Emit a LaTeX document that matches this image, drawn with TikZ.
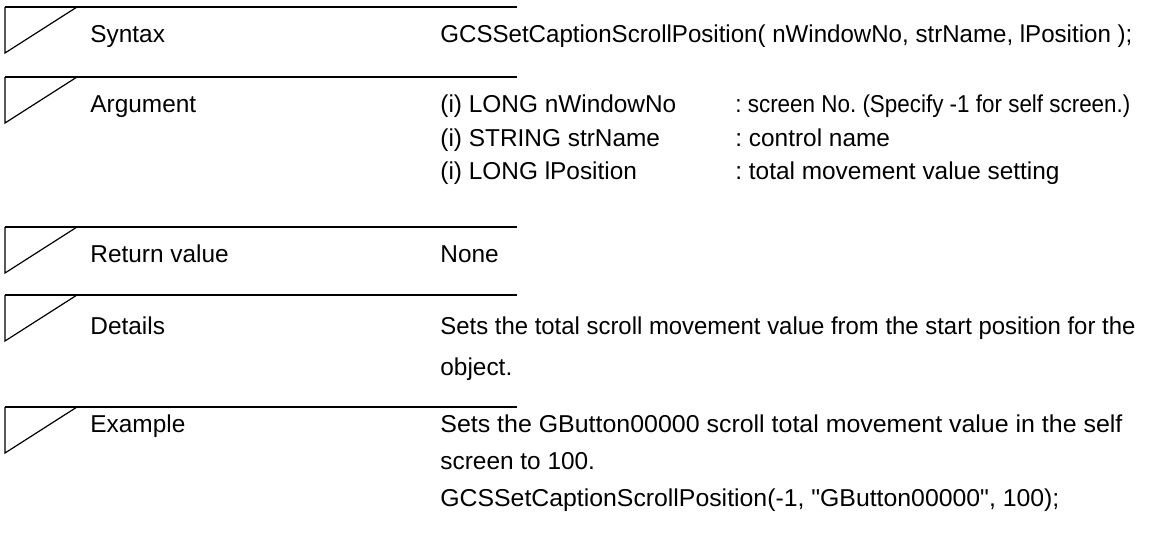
\documentclass[tikz,border=0pt]{standalone}
\usepackage{fontspec}
\setmainfont{Liberation Sans}[Ligatures=TeXOff]
\newcommand{\fitline}[2]{\resizebox{#1}{\height}{#2}}

\begin{document}
\frenchspacing
\begin{tikzpicture}[
    x=0.5pt, y=-0.5pt,
    etikett/.style = {anchor=base west, inner sep=0pt},
    linje/.style = {black, line width=1pt},
    strek/.style = {black, line width=0.6pt},
    font=\fontsize{12.2}{18}\selectfont
    ]
  \useasboundingbox (0,0) rectangle (1154,532);

  % header marks
  \foreach \y/\n in {7/syn, 77/arg, 227/ret, 295/det, 407/ex} {
    \coordinate (\n-a) at (5,\y);
    \coordinate (\n-b) at (517,\y);
    \coordinate (\n-c) at (5,\y+46);
    \coordinate (\n-d) at (77,\y);
    \draw[linje] (\n-a) -- (\n-b);
    \draw[strek] (\n-a) -- (\n-c) -- (\n-d);
  }

  \node[etikett] (syntax) at (90,42) {Syntax};
  \node[etikett] (syntaxval) at (440,42) {\fitline{346pt}{GCSSetCaptionScrollPosition( nWindowNo, strName, lPosition );}};

  \node[etikett] (argument) at (90,112) {Argument};
  \node[etikett] (arg1) at (440,112) {(i) LONG nWindowNo};
  \node[etikett] (arg2) at (440,146) {(i) STRING strName};
  \node[etikett] (arg3) at (440,179) {(i) LONG lPosition};
  \node[etikett] (arg1txt) at (735,112) {\fitline{197.5pt}{: screen No. (Specify -1 for self screen.)}};
  \node[etikett] (arg2txt) at (735,146) {: control name};
  \node[etikett] (arg3txt) at (735,179) {: total movement value setting};

  \node[etikett] (return) at (90,262) {Return value};
  \node[etikett] (returnval) at (440,262) {None};

  \node[etikett] (details) at (90,334) {Details};
  \node[etikett] (details1) at (440,334) {\fitline{347.5pt}{Sets the total scroll movement value from the start position for the}};
  \node[etikett] (details2) at (440,375) {object.};

  \node[etikett] (example) at (90,432) {Example};
  \node[etikett] (example1) at (440,432) {\fitline{341pt}{Sets the GButton00000 scroll total movement value in the self}};
  \node[etikett] (example2) at (440,469) {screen to 100.};
  \node[etikett] (example3) at (440,506) {\fitline{309.5pt}{GCSSetCaptionScrollPosition(-1, "GButton00000", 100);}};
\end{tikzpicture}
\end{document}
